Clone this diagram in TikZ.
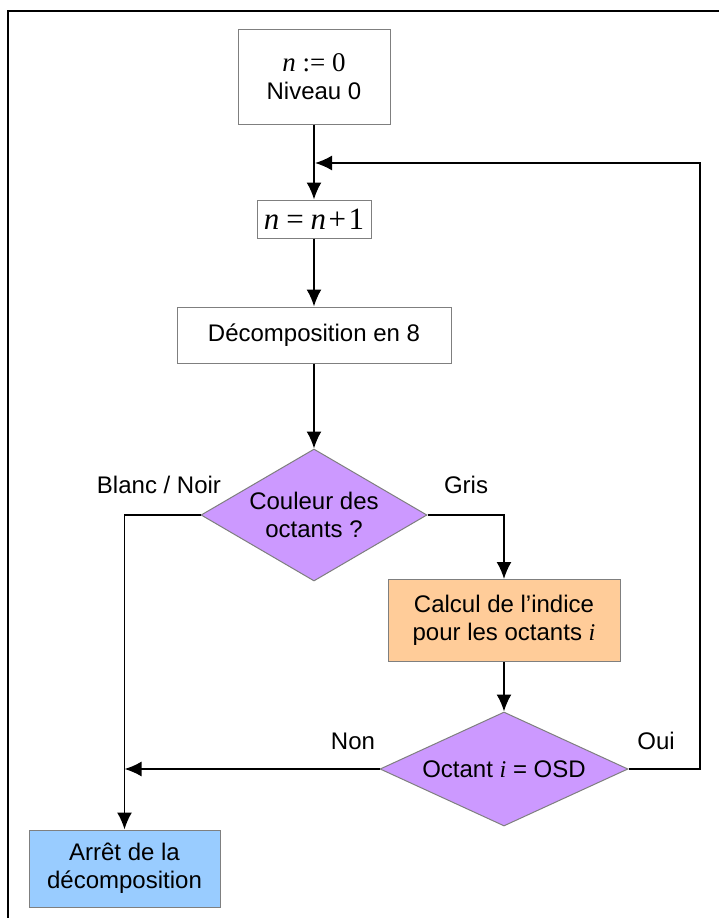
\documentclass[tikz,border=0pt]{standalone}
\usepackage{fontspec}
\setmainfont{Liberation Sans}
\newfontfamily\tms{Liberation Serif}
\usetikzlibrary{shapes.geometric,arrows.meta}
\definecolor{boxgray}{HTML}{7F7F7F}
\definecolor{violetfill}{HTML}{CC99FF}
\definecolor{orangefill}{HTML}{FFCC99}
\definecolor{bluefill}{HTML}{99CCFF}
\begin{document}
\begin{tikzpicture}[x=1pt,y=-1pt,
  box/.style={draw=boxgray,line width=1pt,inner sep=0pt,align=center,font=\fontsize{24}{28}\selectfont},
  dia/.style={diamond,draw=boxgray,line width=1pt,fill=violetfill,inner sep=0pt},
  txt/.style={align=center,font=\fontsize{24}{28}\selectfont,inner sep=0pt},
  lbl/.style={anchor=base,font=\fontsize{24}{28}\selectfont,inner sep=0pt},
  arr/.style={line width=1.8pt,-{Latex[length=17pt,width=15pt]}}]
\useasboundingbox (0,0) rectangle (719,918);
\draw[line width=2pt] (8,918) -- (8,11) -- (719,11);

\node[box,minimum width=152pt,minimum height=95pt] (top) at (314,76.5)
  {{\tms\fontsize{27}{28}\selectfont\textit{n} := 0}\\Niveau 0};
\node[box,minimum width=114pt,minimum height=38pt] (inc) at (314,219)
  {\tms\fontsize{31}{32}\selectfont\textit{n}\hspace{0.22em}=\hspace{0.22em}\textit{n}\hspace{0.08em}+\hspace{0.08em}1};
\node[box,minimum width=274pt,minimum height=56pt] (dec) at (314,335) {Décomposition en 8};
\node[dia,minimum width=226pt,minimum height=132pt] (d1) at (314,515) {};
\node[txt] (d1t) at (d1) {Couleur des\\octants ?};
\node[box,fill=orangefill,minimum width=232pt,minimum height=82pt] (calc) at (504,620.5)
  {Calcul de l’indice\\pour les octants {\tms\itshape i}};
\node[dia,minimum width=248pt,minimum height=114pt] (d2) at (504,769) {};
\node[txt] (d2t) at (d2) {Octant {\tms\itshape i} = OSD};
\node[box,fill=bluefill,minimum width=191pt,minimum height=77pt] (stop) at (124.5,868.5)
  {Arrêt de la\\décomposition};

\node[lbl] (lb) at (159,493) {Blanc / Noir};
\node[lbl] (lg) at (466,493) {Gris};
\node[lbl] (ln) at (353,749) {Non};
\node[lbl] (lo) at (656,749) {Oui};

\draw[arr] (top) -- (inc);
\draw[arr] (inc) -- (dec);
\draw[arr] (dec) -- (d1);
\draw[arr] (d1.west) -| (stop.north);
\draw[arr] (d1.east) -| (calc.north);
\draw[arr] (calc) -- (d2);
\draw[arr] (d2.west) -- (d2.west -| stop.north);
\coordinate (loop) at (700,163);
\draw[arr,shorten >=1pt] (d2.east) -| (loop) -- (loop -| top.south);
\end{tikzpicture}
\end{document}
